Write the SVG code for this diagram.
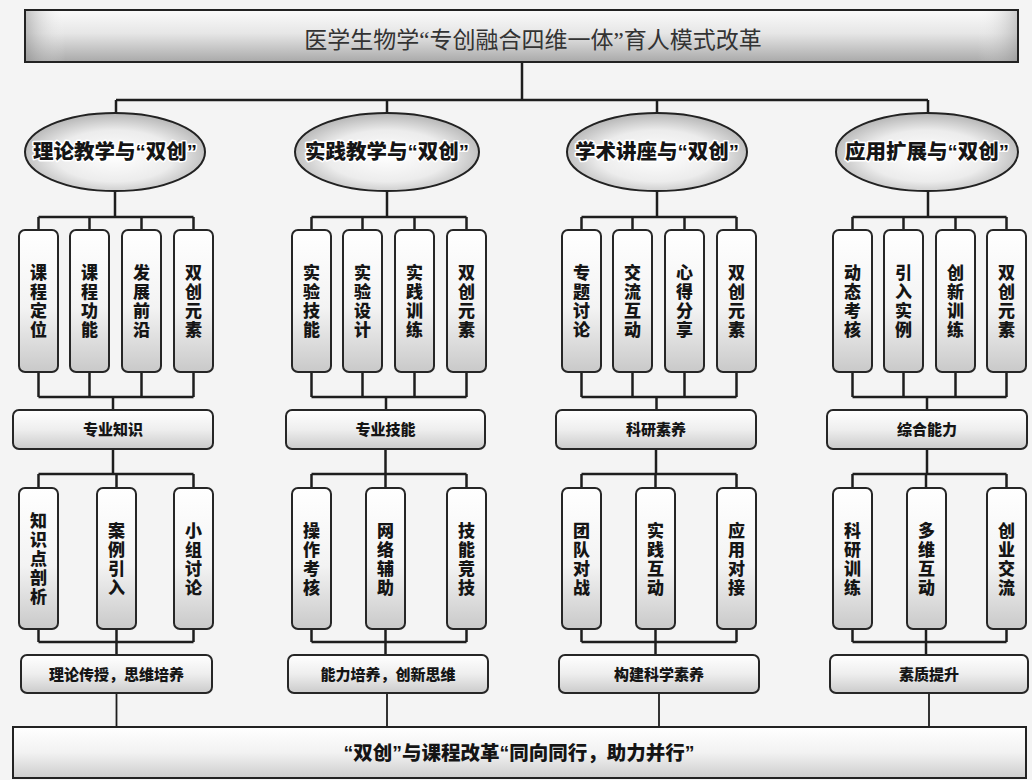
<svg xmlns="http://www.w3.org/2000/svg" width="1032" height="780" viewBox="0 0 1032 780">
<defs>
<linearGradient id="gTitle" x1="0" y1="0" x2="0" y2="1">
<stop offset="0" stop-color="#fbfbfb"/><stop offset="0.45" stop-color="#e6e6e6"/><stop offset="1" stop-color="#a9a9a9"/>
</linearGradient>
<linearGradient id="gTitleL" x1="0" y1="0" x2="1" y2="0">
<stop offset="0" stop-color="#8a8a8a" stop-opacity="0.5"/><stop offset="0.04" stop-color="#ffffff" stop-opacity="0"/><stop offset="0.96" stop-color="#ffffff" stop-opacity="0"/><stop offset="1" stop-color="#8a8a8a" stop-opacity="0.4"/>
</linearGradient>
<radialGradient id="gEll" cx="0.5" cy="0.55" r="0.55">
<stop offset="0" stop-color="#ffffff"/><stop offset="0.6" stop-color="#ececec"/><stop offset="1" stop-color="#b5b5b5"/>
</radialGradient>
<linearGradient id="gBox" x1="0" y1="0" x2="0" y2="1">
<stop offset="0" stop-color="#ffffff"/><stop offset="0.55" stop-color="#f3f3f3"/><stop offset="1" stop-color="#c9c9c9"/>
</linearGradient>
<linearGradient id="gLab" x1="0" y1="0" x2="0" y2="1">
<stop offset="0" stop-color="#ffffff"/><stop offset="0.5" stop-color="#eeeeee"/><stop offset="1" stop-color="#cbcbcb"/>
</linearGradient>
<linearGradient id="gBot" x1="0" y1="0" x2="0" y2="1">
<stop offset="0" stop-color="#ffffff"/><stop offset="0.5" stop-color="#f2f2f2"/><stop offset="1" stop-color="#cdcdcd"/>
</linearGradient>
</defs>
<style>
.bg{fill:#f4f4f4}
.ln{fill:none;stroke:#1e1e1e;stroke-width:2.5}
.ell{fill:url(#gEll);stroke:#222;stroke-width:2}
.vb{fill:url(#gBox);stroke:#262626;stroke-width:2}
.lb{fill:url(#gLab);stroke:#262626;stroke-width:2}
.t{font-family:"Liberation Sans","Noto Sans CJK SC",sans-serif;font-weight:900;fill:#151515;text-anchor:middle}
.te{font-size:20.5px;stroke:#ffffff;stroke-width:3;paint-order:stroke;stroke-linejoin:round}
.tv{font-size:17px}
.tl{font-size:15px}
.tt{font-family:"Liberation Serif","Noto Sans CJK SC",serif;font-size:23px;fill:#333;text-anchor:middle}
.tb{font-size:19.5px}
</style>
<rect class="bg" x="0" y="0" width="1032" height="780"/>

<g id="connectors">
<path class="ln" d="M522 62 V100 M116 100 H928 M116 100 V113 M387 100 V113 M657 100 V113 M928 100 V113"/>
<path class="ln" d="M115 191 V217 M38.5 217 H193.5 M38.5 217 V230 M89.5 217 V230 M141.5 217 V230 M193.5 217 V230"/>
<path class="ln" d="M38.5 372 V397 M89.5 372 V397 M141.5 372 V397 M193.5 372 V397 M38.5 397 H193.5 M113 397 V410"/>
<path class="ln" d="M113 449 V474 M38.5 474 H193.5 M38.5 474 V488 M116.5 474 V488 M193.5 474 V488"/>
<path class="ln" d="M38.5 629 V642 M116.5 629 V655 M193.5 629 V642 M38.5 642 H193.5"/>
<path class="ln" d="M116.5 693 V727" style="stroke-width:1.8"/>
<path class="ln" d="M387 191 V217 M311.5 217 H466.5 M311.5 217 V230 M362.5 217 V230 M414.5 217 V230 M466.5 217 V230"/>
<path class="ln" d="M311.5 372 V397 M362.5 372 V397 M414.5 372 V397 M466.5 372 V397 M311.5 397 H466.5 M386 397 V410"/>
<path class="ln" d="M385.5 449 V474 M311.5 474 H466.5 M311.5 474 V488 M385.5 474 V488 M466.5 474 V488"/>
<path class="ln" d="M311.5 629 V642 M385.5 629 V655 M466.5 629 V642 M311.5 642 H466.5"/>
<path class="ln" d="M387 693 V727" style="stroke-width:1.8"/>
<path class="ln" d="M657 191 V217 M581.5 217 H736.5 M581.5 217 V230 M632.5 217 V230 M684.5 217 V230 M736.5 217 V230"/>
<path class="ln" d="M581.5 372 V397 M632.5 372 V397 M684.5 372 V397 M736.5 372 V397 M581.5 397 H736.5 M656.5 397 V410"/>
<path class="ln" d="M656 449 V474 M581.5 474 H736.5 M581.5 474 V488 M655.5 474 V488 M736.5 474 V488"/>
<path class="ln" d="M581.5 629 V642 M655.5 629 V655 M736.5 629 V642 M581.5 642 H736.5"/>
<path class="ln" d="M659 693 V727" style="stroke-width:1.8"/>
<path class="ln" d="M928 191 V217 M852.5 217 H1006.5 M852.5 217 V230 M903.5 217 V230 M955.5 217 V230 M1006.5 217 V230"/>
<path class="ln" d="M852.5 372 V397 M903.5 372 V397 M955.5 372 V397 M1006.5 372 V397 M852.5 397 H1006.5 M927 397 V410"/>
<path class="ln" d="M927 449 V474 M852.5 474 H1006.5 M852.5 474 V488 M926 474 V488 M1006.5 474 V488"/>
<path class="ln" d="M852.5 629 V642 M926 629 V655 M1006.5 629 V642 M852.5 642 H1006.5"/>
<path class="ln" d="M929 693 V727" style="stroke-width:1.8"/>
</g>

<g id="title">
<rect x="25" y="10" width="993" height="52" fill="url(#gTitle)" stroke="#222" stroke-width="2"/>
<rect x="26" y="11" width="991" height="50" fill="url(#gTitleL)"/>
<text class="tt" x="533" y="48">医学生物学“专创融合四维一体”育人模式改革</text>
</g>

<g id="e1"><ellipse class="ell" cx="115" cy="152" rx="90" ry="39"/><text class="t te" x="115" y="159">理论教学与“双创”</text></g>
<g id="e2"><ellipse class="ell" cx="387" cy="152" rx="92" ry="39"/><text class="t te" x="387" y="159">实践教学与“双创”</text></g>
<g id="e3"><ellipse class="ell" cx="657" cy="152" rx="90" ry="39"/><text class="t te" x="657" y="159">学术讲座与“双创”</text></g>
<g id="e4"><ellipse class="ell" cx="927" cy="152" rx="91" ry="39"/><text class="t te" x="927" y="159">应用扩展与“双创”</text></g>

<g id="c1a1"><rect class="vb" x="19" y="230" width="39" height="142" rx="6"/><text class="t tv" x="38.5" y="279"><tspan x="38.5">课</tspan><tspan x="38.5" dy="19">程</tspan><tspan x="38.5" dy="19">定</tspan><tspan x="38.5" dy="19">位</tspan></text></g>
<g id="c1a2"><rect class="vb" x="70" y="230" width="39" height="142" rx="6"/><text class="t tv" x="89.5" y="279"><tspan x="89.5">课</tspan><tspan x="89.5" dy="19">程</tspan><tspan x="89.5" dy="19">功</tspan><tspan x="89.5" dy="19">能</tspan></text></g>
<g id="c1a3"><rect class="vb" x="122" y="230" width="39" height="142" rx="6"/><text class="t tv" x="141.5" y="279"><tspan x="141.5">发</tspan><tspan x="141.5" dy="19">展</tspan><tspan x="141.5" dy="19">前</tspan><tspan x="141.5" dy="19">沿</tspan></text></g>
<g id="c1a4"><rect class="vb" x="174" y="230" width="39" height="142" rx="6"/><text class="t tv" x="193.5" y="279"><tspan x="193.5">双</tspan><tspan x="193.5" dy="19">创</tspan><tspan x="193.5" dy="19">元</tspan><tspan x="193.5" dy="19">素</tspan></text></g>
<g id="c1l"><rect class="lb" x="13" y="410" width="200" height="39" rx="6"/><text class="t tl" x="113" y="435">专业知识</text></g>
<g id="c1b1"><rect class="vb" x="19" y="488" width="39" height="141" rx="6"/><text class="t tv" x="38.5" y="527"><tspan x="38.5">知</tspan><tspan x="38.5" dy="19">识</tspan><tspan x="38.5" dy="19">点</tspan><tspan x="38.5" dy="19">剖</tspan><tspan x="38.5" dy="19">析</tspan></text></g>
<g id="c1b2"><rect class="vb" x="97" y="488" width="39" height="141" rx="6"/><text class="t tv" x="116.5" y="536.5"><tspan x="116.5">案</tspan><tspan x="116.5" dy="19">例</tspan><tspan x="116.5" dy="19">引</tspan><tspan x="116.5" dy="19">入</tspan></text></g>
<g id="c1b3"><rect class="vb" x="174" y="488" width="39" height="141" rx="6"/><text class="t tv" x="193.5" y="536.5"><tspan x="193.5">小</tspan><tspan x="193.5" dy="19">组</tspan><tspan x="193.5" dy="19">讨</tspan><tspan x="193.5" dy="19">论</tspan></text></g>
<g id="c1s"><rect class="lb" x="21" y="655" width="191" height="38" rx="6"/><text class="t tl" x="116.5" y="679.5">理论传授，思维培养</text></g>

<g id="c2a1"><rect class="vb" x="292" y="230" width="39" height="142" rx="6"/><text class="t tv" x="311.5" y="279"><tspan x="311.5">实</tspan><tspan x="311.5" dy="19">验</tspan><tspan x="311.5" dy="19">技</tspan><tspan x="311.5" dy="19">能</tspan></text></g>
<g id="c2a2"><rect class="vb" x="343" y="230" width="39" height="142" rx="6"/><text class="t tv" x="362.5" y="279"><tspan x="362.5">实</tspan><tspan x="362.5" dy="19">验</tspan><tspan x="362.5" dy="19">设</tspan><tspan x="362.5" dy="19">计</tspan></text></g>
<g id="c2a3"><rect class="vb" x="395" y="230" width="39" height="142" rx="6"/><text class="t tv" x="414.5" y="279"><tspan x="414.5">实</tspan><tspan x="414.5" dy="19">践</tspan><tspan x="414.5" dy="19">训</tspan><tspan x="414.5" dy="19">练</tspan></text></g>
<g id="c2a4"><rect class="vb" x="447" y="230" width="39" height="142" rx="6"/><text class="t tv" x="466.5" y="279"><tspan x="466.5">双</tspan><tspan x="466.5" dy="19">创</tspan><tspan x="466.5" dy="19">元</tspan><tspan x="466.5" dy="19">素</tspan></text></g>
<g id="c2l"><rect class="lb" x="286" y="410" width="199" height="39" rx="6"/><text class="t tl" x="385.5" y="435">专业技能</text></g>
<g id="c2b1"><rect class="vb" x="292" y="488" width="39" height="141" rx="6"/><text class="t tv" x="311.5" y="536.5"><tspan x="311.5">操</tspan><tspan x="311.5" dy="19">作</tspan><tspan x="311.5" dy="19">考</tspan><tspan x="311.5" dy="19">核</tspan></text></g>
<g id="c2b2"><rect class="vb" x="366" y="488" width="39" height="141" rx="6"/><text class="t tv" x="385.5" y="536.5"><tspan x="385.5">网</tspan><tspan x="385.5" dy="19">络</tspan><tspan x="385.5" dy="19">辅</tspan><tspan x="385.5" dy="19">助</tspan></text></g>
<g id="c2b3"><rect class="vb" x="447" y="488" width="39" height="141" rx="6"/><text class="t tv" x="466.5" y="536.5"><tspan x="466.5">技</tspan><tspan x="466.5" dy="19">能</tspan><tspan x="466.5" dy="19">竞</tspan><tspan x="466.5" dy="19">技</tspan></text></g>
<g id="c2s"><rect class="lb" x="288" y="655" width="200" height="38" rx="6"/><text class="t tl" x="388" y="679.5">能力培养，创新思维</text></g>

<g id="c3a1"><rect class="vb" x="562" y="230" width="39" height="142" rx="6"/><text class="t tv" x="581.5" y="279"><tspan x="581.5">专</tspan><tspan x="581.5" dy="19">题</tspan><tspan x="581.5" dy="19">讨</tspan><tspan x="581.5" dy="19">论</tspan></text></g>
<g id="c3a2"><rect class="vb" x="613" y="230" width="39" height="142" rx="6"/><text class="t tv" x="632.5" y="279"><tspan x="632.5">交</tspan><tspan x="632.5" dy="19">流</tspan><tspan x="632.5" dy="19">互</tspan><tspan x="632.5" dy="19">动</tspan></text></g>
<g id="c3a3"><rect class="vb" x="665" y="230" width="39" height="142" rx="6"/><text class="t tv" x="684.5" y="279"><tspan x="684.5">心</tspan><tspan x="684.5" dy="19">得</tspan><tspan x="684.5" dy="19">分</tspan><tspan x="684.5" dy="19">享</tspan></text></g>
<g id="c3a4"><rect class="vb" x="717" y="230" width="39" height="142" rx="6"/><text class="t tv" x="736.5" y="279"><tspan x="736.5">双</tspan><tspan x="736.5" dy="19">创</tspan><tspan x="736.5" dy="19">元</tspan><tspan x="736.5" dy="19">素</tspan></text></g>
<g id="c3l"><rect class="lb" x="556" y="410" width="200" height="39" rx="6"/><text class="t tl" x="656" y="435">科研素养</text></g>
<g id="c3b1"><rect class="vb" x="562" y="488" width="39" height="141" rx="6"/><text class="t tv" x="581.5" y="536.5"><tspan x="581.5">团</tspan><tspan x="581.5" dy="19">队</tspan><tspan x="581.5" dy="19">对</tspan><tspan x="581.5" dy="19">战</tspan></text></g>
<g id="c3b2"><rect class="vb" x="636" y="488" width="39" height="141" rx="6"/><text class="t tv" x="655.5" y="536.5"><tspan x="655.5">实</tspan><tspan x="655.5" dy="19">践</tspan><tspan x="655.5" dy="19">互</tspan><tspan x="655.5" dy="19">动</tspan></text></g>
<g id="c3b3"><rect class="vb" x="717" y="488" width="39" height="141" rx="6"/><text class="t tv" x="736.5" y="536.5"><tspan x="736.5">应</tspan><tspan x="736.5" dy="19">用</tspan><tspan x="736.5" dy="19">对</tspan><tspan x="736.5" dy="19">接</tspan></text></g>
<g id="c3s"><rect class="lb" x="559" y="655" width="200" height="38" rx="6"/><text class="t tl" x="659" y="679.5">构建科学素养</text></g>

<g id="c4a1"><rect class="vb" x="833" y="230" width="39" height="142" rx="6"/><text class="t tv" x="852.5" y="279"><tspan x="852.5">动</tspan><tspan x="852.5" dy="19">态</tspan><tspan x="852.5" dy="19">考</tspan><tspan x="852.5" dy="19">核</tspan></text></g>
<g id="c4a2"><rect class="vb" x="884" y="230" width="39" height="142" rx="6"/><text class="t tv" x="903.5" y="279"><tspan x="903.5">引</tspan><tspan x="903.5" dy="19">入</tspan><tspan x="903.5" dy="19">实</tspan><tspan x="903.5" dy="19">例</tspan></text></g>
<g id="c4a3"><rect class="vb" x="936" y="230" width="39" height="142" rx="6"/><text class="t tv" x="955.5" y="279"><tspan x="955.5">创</tspan><tspan x="955.5" dy="19">新</tspan><tspan x="955.5" dy="19">训</tspan><tspan x="955.5" dy="19">练</tspan></text></g>
<g id="c4a4"><rect class="vb" x="987" y="230" width="39" height="142" rx="6"/><text class="t tv" x="1006.5" y="279"><tspan x="1006.5">双</tspan><tspan x="1006.5" dy="19">创</tspan><tspan x="1006.5" dy="19">元</tspan><tspan x="1006.5" dy="19">素</tspan></text></g>
<g id="c4l"><rect class="lb" x="827" y="410" width="200" height="39" rx="6"/><text class="t tl" x="927" y="435">综合能力</text></g>
<g id="c4b1"><rect class="vb" x="833" y="488" width="39" height="141" rx="6"/><text class="t tv" x="852.5" y="536.5"><tspan x="852.5">科</tspan><tspan x="852.5" dy="19">研</tspan><tspan x="852.5" dy="19">训</tspan><tspan x="852.5" dy="19">练</tspan></text></g>
<g id="c4b2"><rect class="vb" x="907" y="488" width="39" height="141" rx="6"/><text class="t tv" x="926.5" y="536.5"><tspan x="926.5">多</tspan><tspan x="926.5" dy="19">维</tspan><tspan x="926.5" dy="19">互</tspan><tspan x="926.5" dy="19">动</tspan></text></g>
<g id="c4b3"><rect class="vb" x="987" y="488" width="39" height="141" rx="6"/><text class="t tv" x="1006.5" y="536.5"><tspan x="1006.5">创</tspan><tspan x="1006.5" dy="19">业</tspan><tspan x="1006.5" dy="19">交</tspan><tspan x="1006.5" dy="19">流</tspan></text></g>
<g id="c4s"><rect class="lb" x="830" y="655" width="198" height="38" rx="6"/><text class="t tl" x="929" y="679.5">素质提升</text></g>

<g id="bottom">
<rect x="13" y="727" width="1013" height="51" fill="url(#gBot)" stroke="#222" stroke-width="2"/>
<text class="t tb" x="519" y="760">“双创”与课程改革“同向同行，助力并行”</text>
</g>
</svg>
